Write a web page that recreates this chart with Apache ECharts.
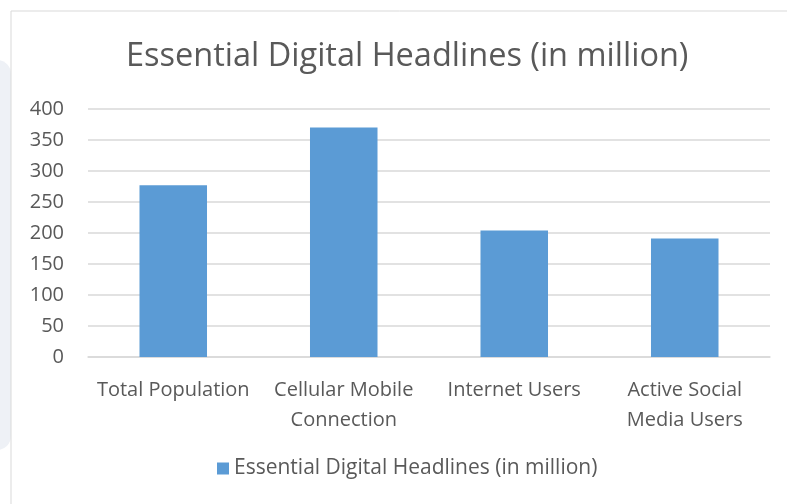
<!DOCTYPE html>
<html>
<head>
<meta charset="utf-8">
<script src="https://cdn.jsdelivr.net/npm/echarts@6/dist/echarts.min.js"></script>
<style>
html,body{margin:0;padding:0;background:#fff;}
#chart{width:787px;height:504px;}
</style>
</head>
<body>
<div id="chart"></div>
<script>
const categories = ['Total Population', 'Cellular Mobile\nConnection', 'Internet Users', 'Active Social\nMedia Users'];
const values = [277, 370, 204, 191];
const seriesName = 'Essential Digital Headlines (in million)';
const titleText = 'Essential Digital Headlines (in million)';

const FONT = '"Open Sans", "Noto Sans", sans-serif';
const chart = echarts.init(document.getElementById('chart'), null, {renderer: 'canvas'});
chart.setOption({
  backgroundColor: '#ffffff',
  animation: false,
  graphic: [
    {type: 'rect', z: -10, shape: {x: -20, y: 60, width: 31, height: 390, r: 14}, style: {fill: '#eef1f6'}},
    {type: 'rect', z: -5, shape: {x: 11, y: 11, width: 800, height: 520}, style: {fill: '#ffffff', stroke: '#d9d9d9', lineWidth: 1}}
  ],
  title: {
    text: titleText,
    left: 121,
    top: 35,
    textStyle: {fontFamily: FONT, fontSize: 32.5, fontWeight: 'normal', color: '#595959'}
  },
  legend: {
    bottom: 20,
    left: 212,
    itemWidth: 12,
    itemHeight: 12,
    icon: 'rect',
    itemGap: 6,
    textStyle: {fontFamily: FONT, fontSize: 21, color: '#595959'}
  },
  grid: {left: 88, right: 17, top: 109, bottom: 147},
  xAxis: {
    type: 'category',
    data: categories,
    axisLine: {lineStyle: {color: '#d9d9d9', width: 1.5}},
    axisTick: {show: false},
    axisLabel: {fontFamily: FONT, fontSize: 20, color: '#595959', margin: 18, lineHeight: 30, interval: 0}
  },
  yAxis: {
    type: 'value',
    min: 0, max: 400, interval: 50,
    axisLine: {show: false},
    axisTick: {show: false},
    splitLine: {lineStyle: {color: '#d9d9d9', width: 1.5}},
    axisLabel: {fontFamily: FONT, fontSize: 20, color: '#595959', margin: 24}
  },
  series: [{
    name: seriesName,
    type: 'bar',
    data: values,
    barWidth: '39.6%',
    itemStyle: {color: '#5b9bd5'}
  }]
});
</script>
</body>
</html>
